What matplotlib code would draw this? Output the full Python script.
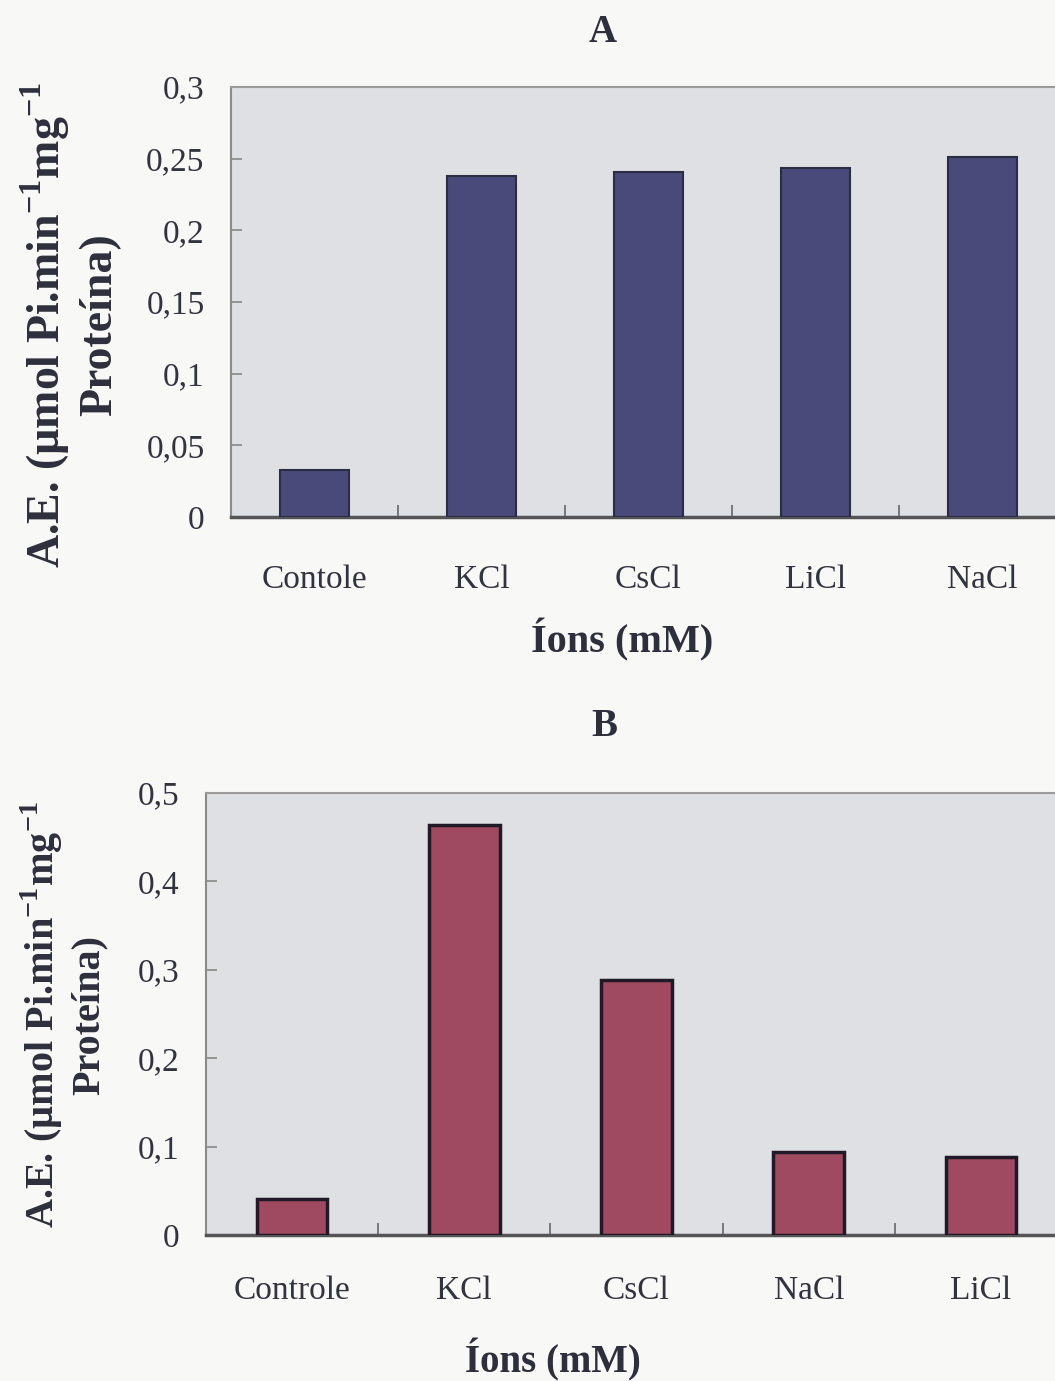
import matplotlib
matplotlib.use('Agg')
import matplotlib.pyplot as plt
from matplotlib.ticker import FuncFormatter, FixedLocator

plt.rcParams["font.family"] = 'Liberation Serif'
plt.rcParams["mathtext.fontset"] = 'custom'
plt.rcParams["mathtext.rm"] = 'Liberation Serif'
plt.rcParams["mathtext.bf"] = 'Liberation Serif:bold'

# painel A
ions_a = ['Contole', 'KCl', 'CsCl', 'LiCl', 'NaCl']
ae_a = [0.033, 0.238, 0.241, 0.2435, 0.251]
yticks_a = [0, 0.05, 0.1, 0.15, 0.2, 0.25, 0.3]

# painel B
ions_b = ['Controle', 'KCl', 'CsCl', 'NaCl', 'LiCl']
ae_b = [0.041, 0.464, 0.288, 0.094, 0.088]
yticks_b = [0, 0.1, 0.2, 0.3, 0.4, 0.5]

W, H = 1055, 1381
fig = plt.figure(figsize=(W / 100, H / 100), dpi=100)
fig.patch.set_facecolor('#f8f8f6')

ylabel = ('A.E. (µmol Pi.min$^{\\mathbf{-1}}$mg$^{\\mathbf{-1}}$\n'
          'Proteína)')


def px(x0, y0, x1, y1):
    # pixel box (left, top, right, bottom) -> figure fraction rect
    return [x0 / W, 1 - y1 / H, (x1 - x0) / W, (y1 - y0) / H]


def comma(v, pos):
    s = ('%g' % v).replace('.', ',')
    return s


def draw_panel(rect, cats, vals, ticks, color, edge, ew, xpad):
    ax = fig.add_axes(rect)
    ax.set_facecolor('#dfe0e3')
    x = range(len(cats))
    ax.bar(x, vals, width=0.41, color=color, edgecolor=edge, linewidth=ew,
           zorder=3)
    ax.set_xlim(-0.5, len(cats) - 0.5)
    ax.set_ylim(ticks[0], ticks[-1])
    ax.yaxis.set_major_locator(FixedLocator(ticks))
    ax.yaxis.set_major_formatter(FuncFormatter(comma))
    ax.set_xticks(list(x))
    ax.set_xticklabels(cats)
    ax.set_xticks([i + 0.5 for i in range(len(cats) - 1)], minor=True)
    ax.tick_params(axis='x', which='major', length=0, pad=xpad,
                   labelsize=24, colors='#333340')
    ax.tick_params(axis='x', which='minor', direction='in', length=9,
                   width=1.2, color='#666666')
    ax.tick_params(axis='y', direction='in', length=8, width=1.2,
                   color='#888888', pad=19, labelsize=24,
                   labelcolor='#333340')
    ax.spines['left'].set_color('#8a8a8a')
    ax.spines['left'].set_linewidth(1.5)
    ax.spines['bottom'].set_color('#555558')
    ax.spines['bottom'].set_linewidth(2.5)
    ax.spines['top'].set_color('#9a9a9a')
    ax.spines['top'].set_linewidth(1.5)
    ax.spines['right'].set_visible(False)
    return ax


ax_a = draw_panel(px(231, 87, 1066, 517), ions_a, ae_a, yticks_a,
                  '#4a4a7a', '#2c2c44', 1.5, 34)
ax_b = draw_panel(px(206, 793, 1067, 1235), ions_b, ae_b, yticks_b,
                  '#a04a62', '#201a26', 2.5, 29)

txt = '#2e2e3c'
fig.text(603 / W, 1 - 32 / H, 'A', ha='center', va='center',
         fontsize=28, fontweight='bold', color=txt)
fig.text(604 / W, 1 - 727 / H, 'B', ha='center', va='center',
         fontsize=28, fontweight='bold', color=txt)

fig.text(622 / W, 1 - 640 / H, 'Íons (mM)', ha='center', va='center',
         fontsize=29, fontweight='bold', color=txt)
fig.text(553 / W, 1 - 1360 / H, 'Íons (mM)', ha='center', va='center',
         fontsize=28, fontweight='bold', color=txt)

fig.text(70 / W, 1 - 325 / H, ylabel, rotation=90, ha='center',
         va='center', multialignment='center', fontsize=33,
         fontweight='bold', color=txt, linespacing=1.2)
fig.text(63 / W, 1 - 1015 / H, ylabel, rotation=90, ha='center',
         va='center', multialignment='center', fontsize=29,
         fontweight='bold', color=txt, linespacing=1.2)

fig.savefig('out.png', dpi=100, facecolor=fig.get_facecolor())
